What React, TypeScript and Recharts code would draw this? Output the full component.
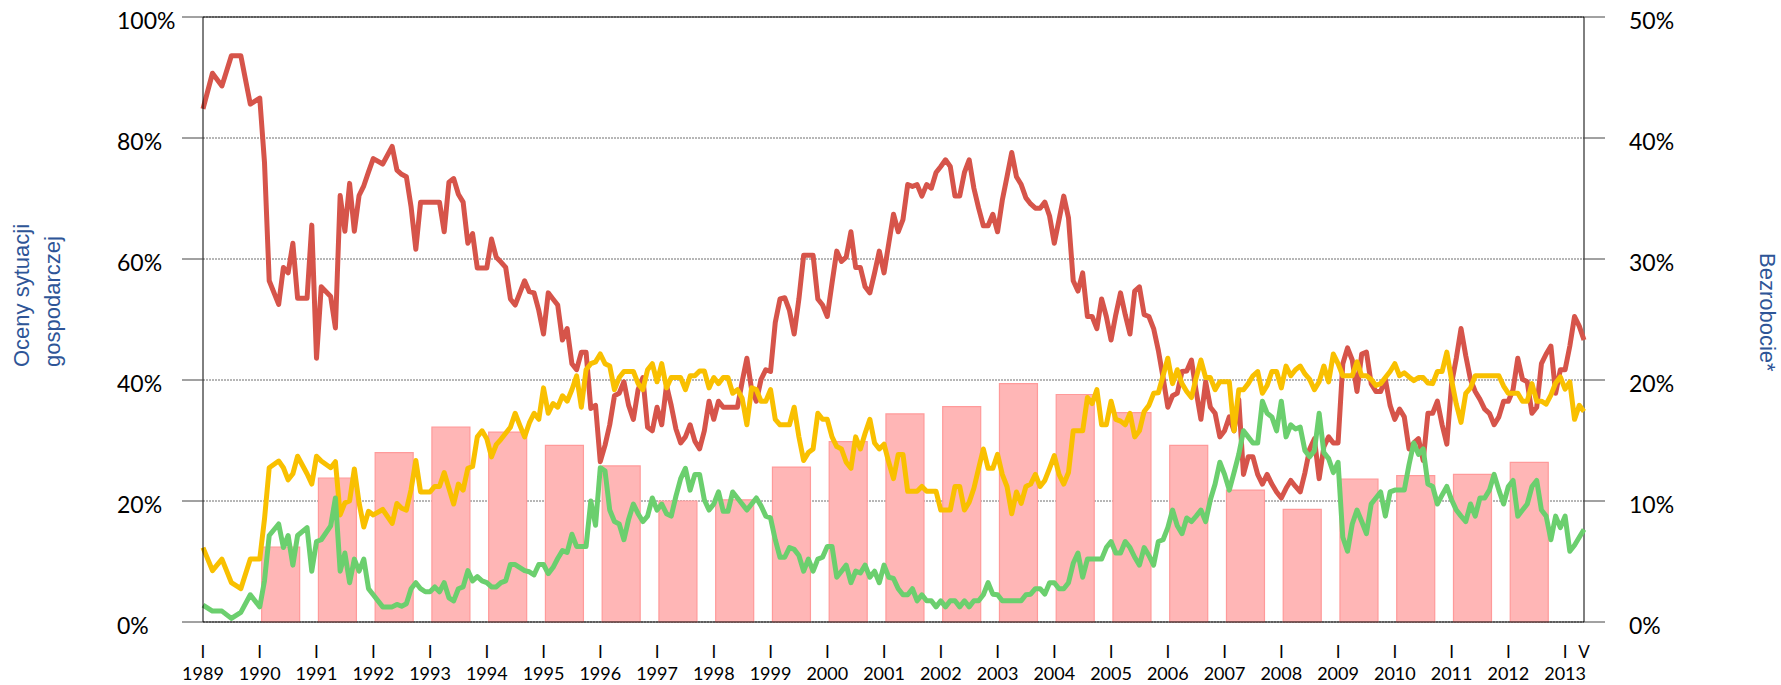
import React from 'react';
import { ComposedChart, Bar, Line, XAxis, YAxis, CartesianGrid, ReferenceLine } from 'recharts';

// Survey months, counted from January 1989 (0) to May 2013 (292)
const surveyMonths = [
  0, 2, 4, 6, 8, 10, 12, 13, 14, 16, 17, 18, 19, 20, 22, 23, 24, 25, 27, 28, 29, 30, 31, 32, 33, 34, 35, 36, 38, 40, 41,
  42, 43, 44, 45, 46, 47, 48, 49, 50, 51, 52, 53, 54, 55, 56, 57, 58, 59, 60, 61, 62, 63, 64, 65, 66, 67, 68, 69, 70,
  71, 72, 73, 74, 75, 76, 77, 78, 79, 80, 81, 82, 83, 84, 85, 86, 87, 88, 89, 90, 91, 92, 93, 94, 95, 96, 97, 98, 99,
  100, 101, 102, 103, 104, 105, 106, 107, 108, 109, 110, 111, 112, 113, 114, 115, 116, 117, 118, 119, 120, 121, 122,
  123, 124, 125, 126, 127, 128, 129, 130, 131, 132, 133, 134, 135, 136, 137, 138, 139, 140, 141, 142, 143, 144, 145,
  146, 147, 148, 149, 150, 151, 152, 153, 154, 155, 156, 157, 158, 159, 160, 161, 162, 163, 164, 165, 166, 167, 168,
  169, 170, 171, 172, 173, 174, 175, 176, 177, 178, 179, 180, 181, 182, 183, 184, 185, 186, 187, 188, 189, 190, 191,
  192, 193, 194, 195, 196, 197, 198, 199, 200, 201, 202, 203, 204, 205, 206, 207, 208, 209, 210, 211, 212, 213, 214,
  215, 216, 217, 218, 219, 220, 221, 222, 223, 224, 225, 226, 227, 228, 229, 230, 231, 232, 233, 234, 235, 236, 237,
  238, 239, 240, 241, 242, 243, 244, 245, 246, 247, 248, 249, 250, 251, 252, 253, 254, 255, 256, 257, 258, 259, 260,
  261, 262, 263, 264, 265, 266, 267, 268, 269, 270, 271, 272, 273, 274, 275, 276, 277, 278, 279, 280, 281, 282, 283,
  284, 285, 286, 287, 288, 289, 290, 291, 292,
];

// "Bad" assessments of the economic situation (%)
const badShare = [
  84.8, 90.7, 88.6, 93.6, 93.6, 85.6, 86.6, 76, 56.4, 52.5, 58.6, 57.7, 62.6, 53.5, 53.5, 65.6, 43.6, 55.4, 53.8, 48.6,
  70.5, 64.6, 72.5, 64.6, 70.5, 72.1, 74.4, 76.6, 75.7, 78.6, 74.7,
  74.0, 73.6, 68.6, 61.6, 69.4, 69.4, 69.4, 69.4, 69.4, 64.5, 72.7, 73.3, 70.7, 69.4, 62.6, 64.2, 58.5, 58.5, 58.5,
  63.3, 60.3, 59.5, 58.6, 53.4, 52.4, 54.4, 56.4, 54.6, 54.4, 51.5, 47.6, 54.4, 53.4, 52.4, 46.6, 48.5, 42.7, 41.7,
  44.6, 44.6, 35.3, 35.8, 26.5,
  29.2, 32.6, 37.4, 37.8, 39.7, 35.8, 33.5, 38.4, 40.4, 32.2, 31.6, 35.5, 32.6, 39.1, 35.8, 31.9, 29.6, 30.6, 32.6,
  29.9, 28.6, 31.6, 36.5, 33.5, 36.5, 35.5, 35.5, 35.5, 35.5, 39.7, 43.6, 38.4, 36.5, 40.1, 41.7, 41.4, 49.5, 53.4,
  53.6, 51.5, 47.6, 53.4, 60.6,
  60.6, 60.6, 53.4, 52.4, 50.5, 56.0, 61.3, 59.6, 60.3, 64.5, 58.6, 58.6, 55.4, 54.4, 57.7, 61.3, 57.7, 62.6, 67.4,
  64.5, 66.5, 72.3, 72.0, 72.3, 70.4, 72.3, 71.7, 74.3, 75.3, 76.4, 75.3, 70.4, 70.4, 74.3, 76.4, 71.7, 68.4, 65.5,
  65.5, 67.4, 64.5,
  69.7, 73.6, 77.6, 73.6, 72.3, 70.1, 69.1, 68.4, 68.4, 69.4, 67.1, 62.6, 66.5, 70.4, 66.8, 56.4, 54.7, 57.7, 50.5,
  50.5, 48.5, 53.4, 50.5, 46.6, 50.8, 54.4, 50.8, 47.6, 54.7, 55.4, 50.8, 50.5, 48.5, 44.9, 40.4, 35.5, 37.4, 37.8,
  41.4, 41.5, 43.3, 38.1, 33.5,
  39.7, 35.5, 34.5, 30.6, 31.6, 33.9, 31.6, 36.8, 24.4, 27.3, 27.3, 24.4, 22.8, 24.4, 22.8, 21.5, 20.5, 22.1, 23.4,
  22.4, 21.5, 24.7, 28.6, 30.3, 23.7, 29.0, 30.6, 29.6, 29.6, 42.7, 45.3, 43.3, 38.1, 44.3, 44.6, 39.4, 38.1, 38.1,
  40.1, 35.8, 33.5, 35.2,
  33.9, 28.6, 29.6, 30.3, 26.7, 34.5, 34.5, 36.5, 32.6, 29.4, 39.4, 43.6, 48.5, 44.0, 40.1, 38.1, 36.8, 35.2, 34.5,
  32.6, 33.9, 36.5, 36.5, 38.4, 43.6, 40.1, 39.7, 34.5, 35.5, 42.7, 44.3, 45.6, 37.8, 41.7, 41.7, 45.6, 50.5, 48.9,
  46.6,
];

// "Neither good nor bad" (%)
const neutralShare = [
  12.3, 8.5, 10.4, 6.5, 5.5, 10.4, 10.4, 17.0, 25.5, 26.6, 25.5, 23.5, 24.5, 27.4, 24.5, 22.8, 27.4, 26.6, 25.5, 26.5,
  17.7, 19.7, 20.0, 25.3, 19.7, 15.7, 18.3, 17.7, 18.6, 16.3, 19.6,
  18.8, 18.5, 21.9, 26.7, 21.5, 21.5, 21.5, 22.4, 22.4, 24.7, 22.1, 19.5, 22.8, 21.8, 25.4, 25.7, 30.6, 31.6, 30.3,
  27.3, 29.3, 30.2, 31.2, 32.2, 34.5, 32.5, 30.6, 32.9, 34.5, 33.5, 38.7, 34.5, 36.1, 35.5, 37.4, 36.5, 38.4, 40.7,
  35.5, 41.7, 42.7, 43.0, 44.3,
  42.7, 42.3, 38.4, 40.4, 41.4, 41.4, 41.4, 39.4, 38.4, 41.7, 42.7, 39.7, 42.7, 38.7, 40.4, 40.4, 40.4, 38.4, 40.7,
  40.7, 41.5, 41.5, 38.7, 40.4, 39.4, 40.4, 40.4, 37.8, 38.4, 37.0, 32.6, 38.7, 38.4, 36.5, 36.5, 38.4, 33.5, 32.6,
  32.6, 32.6, 35.5, 30.6, 26.7,
  28.0, 28.6, 34.5, 33.5, 33.5, 30.6, 29.0, 28.6, 26.4, 25.4, 30.6, 28.6, 31.2, 33.5, 29.6, 28.6, 29.4, 26.4, 23.7,
  27.7, 27.7, 21.6, 21.6, 21.6, 22.4, 21.6, 21.6, 21.6, 18.5, 18.5, 18.5, 22.4, 22.4, 18.5, 19.8, 22.1, 25.4, 28.6,
  25.4, 25.4, 27.7,
  24.4, 22.4, 17.9, 21.5, 19.6, 22.4, 22.8, 24.4, 22.4, 23.4, 25.4, 27.5, 24.4, 22.8, 24.7, 31.6, 31.6, 31.6, 37.1,
  36.1, 38.4, 32.6, 32.6, 36.5, 33.5, 33.2, 32.6, 34.5, 30.6, 31.6, 34.8, 35.8, 37.8, 37.9, 40.7, 43.6, 39.4, 41.7,
  39.4, 38.1, 37.1, 40.4, 43.3,
  40.4, 40.4, 38.4, 39.7, 39.7, 39.7, 31.6, 38.4, 38.4, 39.4, 40.7, 41.4, 37.8, 39.1, 41.4, 41.4, 38.7, 42.3, 40.7,
  41.7, 42.3, 41.0, 40.1, 38.4, 39.7, 42.3, 39.7, 44.3, 42.7, 40.7, 40.7, 40.7, 43.0, 40.7, 40.7, 40.1, 39.1, 39.4,
  40.4, 41.4, 42.7, 40.7,
  41.2, 40.5, 39.9, 40.4, 40.4, 39.5, 39.4, 41.4, 41.4, 44.6, 40.0, 36.0, 33.0, 37.8, 38.7, 40.7, 40.7, 40.7, 40.7,
  40.7, 40.7, 39.0, 37.8, 37.8, 37.8, 36.5, 36.5, 39.4, 36.5, 36.5, 36.0, 37.5, 39.5, 40.5, 38.5, 39.7, 33.5, 35.8,
  34.8,
];

// "Good" assessments (%)
const goodShare = [
  2.8, 1.8, 1.8, 0.6, 1.6, 4.5, 2.5, 6.8, 14.3, 16.2, 12.3, 14.3, 9.4, 14.3, 15.6, 8.4, 13.3, 13.6, 15.9, 20.5,
  8.4, 11.4, 6.5, 10.4, 8.4, 10.4, 5.5, 4.5, 2.5, 2.5, 2.9,
  2.6, 3.0, 5.5, 6.5, 5.5, 5.0, 5.0, 5.8, 5.0, 6.5, 4.0, 3.5, 5.5, 5.8, 8.5, 6.8, 7.5, 6.8, 6.5, 5.8, 5.8, 6.5, 6.8,
  9.5, 9.5, 9.0, 8.5, 8.3, 7.8, 9.5, 9.5, 8.0, 9.0, 10.5, 11.8, 11.5, 14.5, 12.5, 12.5, 12.5, 20.0, 16.0, 25.5,
  25.0, 18.5, 16.6, 16.2, 13.6, 17.0, 19.5, 17.9, 16.6, 17.5, 20.5, 18.5, 19.5, 17.9, 17.5, 20.8, 23.7, 25.4, 21.8,
  24.4, 24.4, 20.2, 18.5, 19.5, 21.5, 18.3, 18.3, 21.5, 20.5, 19.5, 18.5, 19.5, 20.5, 19.2, 17.5, 17.2, 13.6, 10.7,
  10.7, 12.3, 12.0, 11.0, 8.4,
  10.4, 8.4, 10.4, 10.7, 12.5, 12.5, 7.4, 8.4, 9.4, 6.5, 8.4, 8.1, 9.4, 7.4, 8.4, 6.5, 9.4, 7.4, 7.2, 5.5, 4.5, 4.5,
  5.5, 3.5, 4.5, 3.5, 3.5, 2.5, 3.5, 2.5, 3.5, 3.5, 2.5, 3.5, 2.5, 3.5, 3.5, 4.5, 6.5, 4.6, 4.5,
  3.5, 3.5, 3.5, 3.5, 3.5, 4.5, 4.6, 5.5, 5.5, 4.6, 6.5, 6.5, 5.5, 5.5, 6.5, 9.7, 11.4, 7.4, 10.4, 10.4, 10.4, 10.4,
  12.3, 13.3, 11.4, 11.4, 13.3, 12.3, 10.7, 9.4, 12.3, 11.0, 9.4, 13.3, 13.6, 15.6, 18.5, 15.9, 14.6, 17.2, 16.6,
  17.5, 18.5,
  16.6, 20.2, 22.8, 26.4, 24.4, 21.8, 24.7, 27.7, 31.6, 30.6, 29.6, 29.6, 36.5, 34.5, 33.9, 31.6, 36.5, 30.6, 32.6,
  31.9, 32.2, 28.3, 27.3, 28.3, 34.5, 28.0, 27.0, 24.7, 26.4, 14.0, 11.7, 16.2, 18.5, 16.6, 14.6, 19.5, 20.5, 21.5,
  17.5, 21.5, 21.8, 21.8,
  21.8, 26.0, 29.6, 27.7, 28.6, 22.8, 22.4, 19.5, 21.0, 22.4, 20.2, 18.5, 17.5, 16.6, 19.5, 17.5, 20.5, 20.5, 21.8,
  24.4, 21.8, 19.5, 22.4, 23.4, 17.5, 18.5, 19.5, 22.4, 23.4, 18.5, 17.5, 13.6, 17.5, 15.6, 17.5, 11.7, 12.7, 14.0,
  15.3,
];

// Unemployment rate at year end (%), right axis
const unemploymentYears = [
  1990, 1991, 1992, 1993, 1994, 1995, 1996, 1997, 1998, 1999, 2000, 2001, 2002, 2003, 2004, 2005, 2006, 2007, 2008,
  2009, 2010, 2011, 2012,
];
const unemploymentRate = [
  6.2, 11.9, 14.0, 16.1, 15.7, 14.6, 12.9, 10.0, 10.1, 12.8, 14.9, 17.2, 17.8, 19.7, 18.8, 17.3, 14.6, 10.9, 9.3,
  11.8, 12.1, 12.2, 13.2,
];

// X axis ticks: month index, month mark (Roman numeral) and year
const tickMonths = [0, 12, 24, 36, 48, 60, 72, 84, 96, 108, 120, 132, 144, 156, 168, 180, 192, 204, 216, 228, 240, 252, 264, 276, 288, 292];
const tickMonthMarks = ['I', 'I', 'I', 'I', 'I', 'I', 'I', 'I', 'I', 'I', 'I', 'I', 'I', 'I', 'I', 'I', 'I', 'I', 'I', 'I', 'I', 'I', 'I', 'I', 'I', 'V'];
const tickYears = ['1989', '1990', '1991', '1992', '1993', '1994', '1995', '1996', '1997', '1998', '1999', '2000', '2001', '2002', '2003', '2004', '2005', '2006', '2007', '2008', '2009', '2010', '2011', '2012', '2013', ''];

const leftTicks = [0, 20, 40, 60, 80, 100];
const rightTicks = [0, 10, 20, 30, 40, 50];

const lineRows = surveyMonths.map((m, i) => ({ m, bad: badShare[i], neutral: neutralShare[i], good: goodShare[i] }));
const barRows = unemploymentYears.map((y, i) => ({ m: (y - 1989) * 12 + 4.5, u: unemploymentRate[i] }));

const W = 1781;
const H = 685;
const AXIS_FONT = 'Lato, "Open Sans", sans-serif';
const TITLE_FONT = '"Liberation Sans", Arial, sans-serif';
const TITLE_COLOR = '#2E5597';
const LINE_W = 5;

const LeftTick = (props: any) => {
  const { x, y, payload } = props;
  return (
    <text x={x - 65} y={y + 12} textAnchor="start" fontFamily={AXIS_FONT} fontSize={23} fill="#000">
      {`${payload.value}%`}
    </text>
  );
};

const RightTick = (props: any) => {
  const { x, y, payload } = props;
  return (
    <text x={x + 24} y={y + 12} textAnchor="start" fontFamily={AXIS_FONT} fontSize={23} fill="#000">
      {`${payload.value}%`}
    </text>
  );
};

const XTick = (props: any) => {
  const { x, y, payload } = props;
  const idx = tickMonths.indexOf(payload.value);
  const mark = idx >= 0 ? tickMonthMarks[idx] : '';
  const year = idx >= 0 ? tickYears[idx] : '';
  return (
    <g>
      <text x={x} y={y + 36} textAnchor="middle" fontFamily={AXIS_FONT} fontSize={17} fill="#000">
        {mark}
      </text>
      {year ? (
        <text x={x} y={y + 58} textAnchor="middle" fontFamily={AXIS_FONT} fontSize={18} fill="#000">
          {year}
        </text>
      ) : null}
    </g>
  );
};

const chartMargin = { top: 17, right: 0, bottom: 0, left: 0 };

export default function App() {
  return (
    <div style={{ position: 'absolute', left: 0, top: 0, width: W, height: H, background: '#fff' }}>
      {/* bottom layer: grid, right axis, unemployment bars */}
      <div style={{ position: 'absolute', left: 0, top: 0 }}>
        <ComposedChart width={W} height={H} data={barRows} margin={chartMargin}>
          <CartesianGrid yAxisId="right" vertical={false} stroke="#6e6e6e" strokeDasharray="2 1" />
          <XAxis dataKey="m" type="number" domain={[0, 292]} height={63} tick={false} tickLine={false} axisLine={false} />
          <YAxis yAxisId="left" orientation="left" width={203} domain={[0, 100]} tick={false} tickLine={false} axisLine={false} />
          <YAxis
            yAxisId="right"
            orientation="right"
            width={197}
            domain={[0, 50]}
            ticks={rightTicks}
            interval={0}
            tickSize={21}
            tickMargin={0}
            tickLine={{ stroke: '#444' }}
            axisLine={{ stroke: '#000' }}
            tick={RightTick}
          />
          <Bar
            yAxisId="right"
            dataKey="u"
            barSize={38}
            fill="#FFB6B6"
            stroke="#FF9A9A"
            strokeWidth={1.2}
            isAnimationActive={false}
          />
        </ComposedChart>
      </div>
      {/* top layer: survey lines, left axis, time axis */}
      <div style={{ position: 'absolute', left: 0, top: 0 }}>
        <ComposedChart width={W} height={H} data={lineRows} margin={chartMargin}>
          <XAxis
            dataKey="m"
            type="number"
            domain={[0, 292]}
            ticks={tickMonths}
            interval={0}
            height={63}
            tickLine={false}
            tickSize={0}
            tickMargin={0}
            axisLine={{ stroke: '#000', strokeWidth: 1 }}
            tick={XTick}
          />
          <YAxis
            yAxisId="left"
            orientation="left"
            width={203}
            domain={[0, 100]}
            ticks={leftTicks}
            interval={0}
            tickSize={21}
            tickMargin={0}
            tickLine={{ stroke: '#444' }}
            axisLine={{ stroke: '#000' }}
            tick={LeftTick}
          />
          <YAxis yAxisId="right" orientation="right" width={197} domain={[0, 50]} tick={false} tickLine={false} axisLine={false} />
          <ReferenceLine yAxisId="left" y={100} stroke="#000" strokeWidth={1} />
          <Line yAxisId="left" type="linear" dataKey="bad" stroke="#D6544A" strokeWidth={LINE_W} dot={false} strokeLinejoin="round" isAnimationActive={false} />
          <Line yAxisId="left" type="linear" dataKey="neutral" stroke="#F9C000" strokeWidth={LINE_W} dot={false} strokeLinejoin="round" isAnimationActive={false} />
          <Line yAxisId="left" type="linear" dataKey="good" stroke="#6BCF6E" strokeWidth={LINE_W} dot={false} strokeLinejoin="round" isAnimationActive={false} />
        </ComposedChart>
      </div>
      <svg width={W} height={H} style={{ position: 'absolute', left: 0, top: 0, pointerEvents: 'none' }}>
        <text transform="translate(29,367) rotate(-90)" fontFamily={TITLE_FONT} fontSize={22} fill={TITLE_COLOR}>
          Oceny sytuacji
        </text>
        <text transform="translate(60,367) rotate(-90)" fontFamily={TITLE_FONT} fontSize={22} fill={TITLE_COLOR}>
          gospodarczej
        </text>
        <text transform="translate(1760,253) rotate(90)" fontFamily={TITLE_FONT} fontSize={22} fill={TITLE_COLOR}>
          Bezrobocie*
        </text>
      </svg>
    </div>
  );
}
